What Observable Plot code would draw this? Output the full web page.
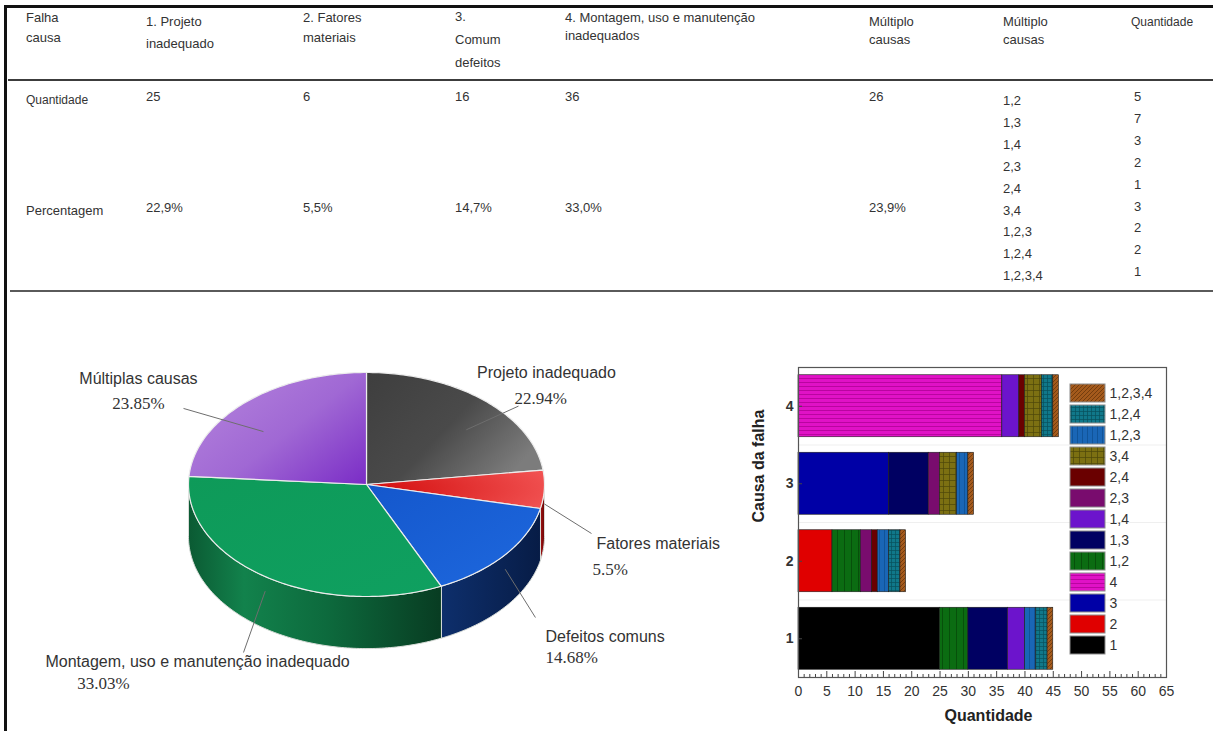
<!DOCTYPE html>
<html>
<head>
<meta charset="utf-8">
<script src="https://cdn.jsdelivr.net/npm/d3@7"></script>
<script src="https://cdn.jsdelivr.net/npm/@observablehq/plot@0.6"></script>
<style>
  body { margin: 0; background: #fff; }
  #page { position: relative; width: 1219px; height: 731px; overflow: hidden;
          font-family: "Liberation Sans", Arial, sans-serif; color: #333; background: #fff; }
  .t { position: absolute; white-space: nowrap; line-height: 16px; }
  .rule { position: absolute; }
  #page svg.plot-abs { position: absolute; background: transparent; }
</style>
</head>
<body>
<div id="page"></div>
<svg id="defs" width="0" height="0" style="position:absolute"></svg>
<script>
// ---------- data ----------
const cornerHeader = ["Falha", "causa"];
const causeHeaders = [
  ["1. Projeto", "inadequado"],
  ["2. Fatores", "materiais"],
  ["3.", "Comum", "defeitos"],
  ["4. Montagem, uso e manutenção", "inadequados"],
  ["Múltiplo", "causas"]
];
const comboHeader = ["Múltiplo", "causas"];
const comboCountHeader = "Quantidade";
const rowLabels = ["Quantidade", "Percentagem"];
const causeCounts = [25, 6, 16, 36, 26];
const causePercents = ["22,9%", "5,5%", "14,7%", "33,0%", "23,9%"];
const comboLabels = ["1,2", "1,3", "1,4", "2,3", "2,4", "3,4", "1,2,3", "1,2,4", "1,2,3,4"];
const comboCounts = [5, 7, 3, 2, 1, 3, 2, 2, 1];

const pieNames = ["Projeto inadequado", "Fatores materiais", "Defeitos comuns",
                  "Montagem, uso e manutenção inadequado", "Múltiplas causas"];
const piePercents = [22.94, 5.5, 14.68, 33.03, 23.85];

const barCauses = [1, 2, 3, 4];
const xTicks = [0, 5, 10, 15, 20, 25, 30, 35, 40, 45, 50, 55, 60, 65];
const legendKeys = ["1,2,3,4", "1,2,4", "1,2,3", "3,4", "2,4", "2,3", "1,4", "1,3", "1,2", "4", "3", "2", "1"];
const xLabel = "Quantidade";
const yLabel = "Causa da falha";

// ---------- page frame and table ----------
const page = document.getElementById("page");

function rule(x, y, w, h, color) {
  const d = document.createElement("div");
  d.className = "rule";
  Object.assign(d.style, {left: x + "px", top: y + "px", width: w + "px", height: h + "px", background: color});
  page.appendChild(d);
}
function addText(txt, x, yc, size = 13) {
  const d = document.createElement("div");
  d.className = "t";
  d.textContent = txt;
  Object.assign(d.style, {left: x + "px", top: (yc - 8) + "px", fontSize: size + "px"});
  page.appendChild(d);
}

rule(4, 5, 3, 726, "#111");       // left border
rule(4, 5, 1209, 3, "#111");      // top border
rule(8, 79, 1205, 2, "#3c3c3c");  // header rule
rule(10, 290, 1203, 2, "#5a5a5a"); // table / charts separator

const colX = [26, 146, 303, 455, 565, 869, 1003, 1131];
const headFirst = [18, 22, 18, 17, 18, 22, 22, 22];
const headStep = [20, 22, 20, 23, 18, 18, 18, 0];

const headers = [cornerHeader, ...causeHeaders, comboHeader, [comboCountHeader]];
headers.forEach((lines, c) => lines.forEach((ln, k) =>
  addText(ln, colX[c], headFirst[c] + k * headStep[c], c === 7 ? 12 : 13)));

addText(rowLabels[0], colX[0], 100, 12);
addText(rowLabels[1], colX[0], 211, 13);
causeCounts.forEach((v, i) => addText(String(v), colX[i + 1], 97));
causePercents.forEach((v, i) => addText(v, colX[i + 1], 208));
comboLabels.forEach((v, j) => addText(v, colX[6], 101 + j * 21.9));
comboCounts.forEach((v, j) => addText(String(v), colX[7] + 3, 97 + j * 21.9));

// ---------- shared SVG paint servers ----------
const defs = d3.select("#defs").append("defs");

function linear(id, stops, x2 = 1, y2 = 0, x1 = 0, y1 = 0) {
  const g = defs.append("linearGradient").attr("id", id)
    .attr("x1", x1).attr("y1", y1).attr("x2", x2).attr("y2", y2);
  stops.forEach(([o, c]) => g.append("stop").attr("offset", o).attr("stop-color", c));
}
function radial(id, stops, cx, cy, r) {
  const g = defs.append("radialGradient").attr("id", id).attr("cx", cx).attr("cy", cy).attr("r", r);
  stops.forEach(([o, c]) => g.append("stop").attr("offset", o).attr("stop-color", c));
}

// pie top faces
linear("top0", [[0, "#3e3e3e"], [0.55, "#4a4a4a"], [1, "#7c7c7c"]], 1, 0.6);
radial("top1", [[0, "#d20c0c"], [1, "#f25454"]], 0, 0.5, 1.1);
linear("top2", [[0, "#1457cc"], [1, "#1e68de"]], 1, 1);
linear("top3", [[0, "#0e9a59"], [1, "#0fa060"]], 1, 1);
linear("top4", [[0, "#b382dc"], [0.5, "#a068d4"], [1, "#7a2cc6"]], 1, 1, 0, 0.2);
// pie side walls
linear("wall0", [[0, "#555"], [1, "#333"]]);
linear("wall1", [[0, "#a51212"], [1, "#680707"]]);
linear("wall2", [[0, "#0e2f6c"], [1, "#071c46"]]);
linear("wall3", [[0, "#0b5a33"], [0.22, "#12824c"], [0.55, "#0d6a3d"], [1, "#083c22"]]);
linear("wall4", [[0, "#6a2aa0"], [1, "#4a1a78"]]);

// bar fills: base colour plus a faint line texture
const swatchStyle = {
  "1":       ["#000000"],
  "2":       ["#e00000"],
  "3":       ["#0000a6"],
  "4":       ["#e012c6", "h", "#a8008f", 4],
  "1,2":     ["#0b6c12", "v", "#064408", 7],
  "1,3":     ["#000062"],
  "1,4":     ["#6c14cc"],
  "2,3":     ["#790c6e"],
  "2,4":     ["#6a0000"],
  "3,4":     ["#7c7012", "hv", "#4e460a", 6],
  "1,2,3":   ["#1a66b6", "v", "#0d4c8c", 5],
  "1,2,4":   ["#10788a", "hv", "#07505c", 4],
  "1,2,3,4": ["#a45a1c", "d", "#5e3008", 4]
};
const patternUrl = k => `url(#pat${legendKeys.indexOf(k)})`;
legendKeys.forEach((k, i) => {
  const [base, type, lc, s = 4] = swatchStyle[k];
  const p = defs.append("pattern").attr("id", "pat" + i)
    .attr("patternUnits", "userSpaceOnUse").attr("width", s).attr("height", s);
  p.append("rect").attr("width", s).attr("height", s).attr("fill", base);
  const line = d => p.append("path").attr("d", d).attr("stroke", lc).attr("stroke-width", 0.7).attr("fill", "none");
  if (type === "h" || type === "hv") line(`M0,${s - 0.5}H${s}`);
  if (type === "v" || type === "hv") line(`M${s - 0.5},0V${s}`);
  if (type === "d") line(`M-1,1L1,-1M0,${s}L${s},0M${s - 1},${s + 1}L${s + 1},${s - 1}`);
});

const baseStyle = {fontFamily: "'Liberation Sans', Arial, sans-serif", color: "#333", background: "transparent", overflow: "visible"};

// ---------- 3D pie ----------
const pieTop = 295;
const P = {cx: 366, cy: 484 - pieTop, rx: 178, ry: 112, w: 740, h: 731 - pieTop};
const wallDepth = 0.465; // wall height, in radius units

const arcs = d3.pie().sort(null).value(d => d)(piePercents);
const step = Math.PI / 180;
const sweep = (a0, a1) => {
  const n = Math.max(2, Math.ceil((a1 - a0) / step));
  return d3.range(n + 1).map(k => a0 + (a1 - a0) * k / n);
};
const pt = (i, a, r = 1, dz = 0) => ({i, x: r * Math.sin(a), y: r * Math.cos(a) - dz});

const topFaces = arcs.map((a, i) => [{i, x: 0, y: 0}, ...sweep(a.startAngle, a.endAngle).map(t => pt(i, t))]);
const walls = arcs.map((a, i) => {
  const b0 = Math.max(a.startAngle, Math.PI / 2), b1 = Math.min(a.endAngle, 3 * Math.PI / 2);
  if (b1 <= b0) return [];
  const s = sweep(b0, b1);
  return [...s.map(t => pt(i, t)), ...s.slice().reverse().map(t => pt(i, t, 1, wallDepth))];
});

// label layout, in pie radius units
const pieLabelPos = [
  {nameAt: [1.011, 1.00],   pctAt: [0.978, 0.768],  endAt: [0.854, 0.70],   anchor: "middle"},
  {nameAt: [1.292, -0.527], pctAt: [1.270, -0.759], endAt: [1.264, -0.4375], anchor: "start"},
  {nameAt: [1.006, -1.357], pctAt: [1.006, -1.545], endAt: [0.949, -1.1875], anchor: "start"},
  {nameAt: [-0.949, -1.58], pctAt: [-1.478, -1.777], endAt: [-0.691, -1.50], anchor: "middle"},
  {nameAt: [-1.281, 0.946], pctAt: [-1.281, 0.723], endAt: [-1.028, 0.679], anchor: "middle"}
];
const leaders = arcs.map((a, i) => {
  const m = (a.startAngle + a.endAngle) / 2;
  const front = m > Math.PI / 2 && m < 3 * Math.PI / 2;
  const s = front ? pt(i, m, 1, 0.13) : pt(i, m, 0.85, 0.15);
  return {x1: s.x, y1: s.y, x2: pieLabelPos[i].endAt[0], y2: pieLabelPos[i].endAt[1]};
});
const labelRows = arcs.map((a, i) => ({...pieLabelPos[i], label: pieNames[i], pct: `${piePercents[i]}%`}));
const serif = "'Liberation Serif', 'Times New Roman', serif";

const labelMarks = ["start", "middle"].flatMap(anchor => {
  const rows = labelRows.filter(d => d.anchor === anchor);
  return [
    Plot.text(rows, {x: d => d.nameAt[0], y: d => d.nameAt[1], text: d => d.label,
      textAnchor: anchor, fontSize: 16, fill: "#333"}),
    Plot.text(rows, {x: d => d.pctAt[0], y: d => d.pctAt[1], text: d => d.pct,
      textAnchor: anchor, fontSize: 17, fill: "#333", fontFamily: serif})
  ];
});

const pie = Plot.plot({
  width: P.w, height: P.h,
  x: {domain: [-1, 1], range: [P.cx - P.rx, P.cx + P.rx], axis: null},
  y: {domain: [-1, 1], range: [P.cy + P.ry, P.cy - P.ry], axis: null},
  style: baseStyle,
  marks: [
    ...walls.map((w, i) => Plot.line(w, {x: "x", y: "y", curve: "linear-closed",
      fill: `url(#wall${i})`, stroke: "#d8dcd8", strokeWidth: 1})),
    ...topFaces.map((f, i) => Plot.line(f, {x: "x", y: "y", curve: "linear-closed",
      fill: `url(#top${i})`, stroke: "#ececec", strokeWidth: 1.2})),
    Plot.link(leaders, {x1: "x1", y1: "y1", x2: "x2", y2: "y2", stroke: "#6e6e6e", strokeWidth: 1}),
    ...labelMarks
  ]
});
pie.classList.add("plot-abs");
Object.assign(pie.style, {left: "0px", top: pieTop + "px"});
page.appendChild(pie);

// ---------- stacked bars ----------
const segments = barCauses.flatMap((c, i) => {
  const parts = [{key: String(c), n: causeCounts[i]},
    ...comboLabels.map((k, j) => ({key: k, n: comboCounts[j]}))
      .filter(p => p.key.split(",").includes(String(c)))];
  let x = 0;
  return parts.map(p => ({cause: c, key: p.key, x1: x, x2: (x += p.n)}));
});

const B = {left: 740, top: 355, w: 479, h: 376, ml: 58, mr: 53, mt: 12, mb: 54};
const plotW = B.w - B.ml - B.mr, plotH = B.h - B.mt - B.mb;
const colorScale = {domain: legendKeys, range: legendKeys.map(patternUrl)};

const bars = Plot.plot({
  width: B.w, height: B.h,
  marginLeft: B.ml, marginRight: B.mr, marginTop: B.mt, marginBottom: B.mb,
  x: {domain: [0, 65], axis: null},
  y: {domain: [0.5, 4.5], axis: null},
  color: colorScale,
  style: {...baseStyle, fontSize: "14px"},
  marks: [
    Plot.ruleY([1.5, 2.5, 3.5], {stroke: "#efefef"}),
    Plot.rect(segments, {x1: "x1", x2: "x2", y1: d => d.cause - 0.4, y2: d => d.cause + 0.4,
      fill: "key", stroke: "#1c1c1c", strokeWidth: 0.6}),
    Plot.ruleX(d3.range(0, 66).filter(v => v % 5), {x: d => d, stroke: "#444", insetTop: plotH - 3}),
    Plot.ruleX(xTicks, {x: d => d, stroke: "#444", insetTop: plotH - 6}),
    Plot.ruleY(barCauses, {y: d => d, stroke: "#444", insetRight: plotW - 4}),
    Plot.frame({stroke: "#555", strokeWidth: 1.2}),
    Plot.axisX(xTicks, {tickSize: 0, tickPadding: 9, label: null, fill: "#333", tickFormat: d => String(d)}),
    Plot.axisY(barCauses, {tickSize: 0, tickPadding: 5, label: null, fill: "#333", fontWeight: "bold",
      tickFormat: d => String(d)}),
    Plot.text([yLabel], {frameAnchor: "left", dx: -40, rotate: -90, fontWeight: "bold", fontSize: 16, fill: "#222"}),
    Plot.text([xLabel], {frameAnchor: "bottom", dy: 43, dx: 6, fontWeight: "bold", fontSize: 16, fill: "#222"})
  ]
});
bars.classList.add("plot-abs");
Object.assign(bars.style, {left: B.left + "px", top: B.top + "px"});
page.appendChild(bars);

// ---------- legend ----------
const legend = Plot.plot({
  width: 150, height: 278,
  marginLeft: 2, marginRight: 113, marginTop: 0, marginBottom: 0,
  x: {domain: [0, 1], axis: null},
  y: {domain: legendKeys, type: "band", paddingInner: 0.12, paddingOuter: 0.06, axis: null},
  color: colorScale,
  style: baseStyle,
  marks: [
    Plot.barX(legendKeys, {x1: () => 0, x2: () => 1, y: d => d, fill: d => d, stroke: "#8c8c8c", strokeWidth: 1}),
    Plot.text(legendKeys, {x: () => 1, y: d => d, text: d => d, textAnchor: "start", dx: 4, fontSize: 14, fill: "#333"})
  ]
});
legend.classList.add("plot-abs");
Object.assign(legend.style, {left: "1068px", top: "380.4px"});
page.appendChild(legend);
</script>
</body>
</html>
